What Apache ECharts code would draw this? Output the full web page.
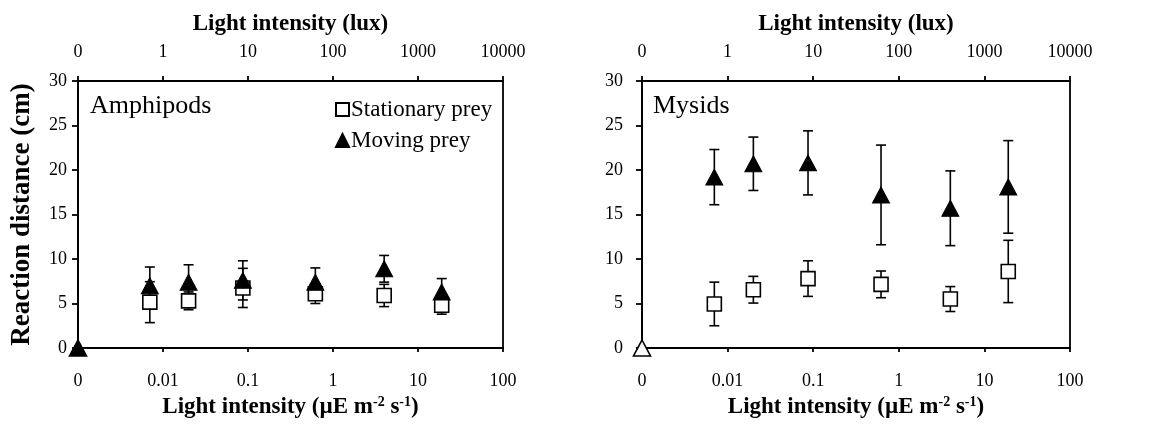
<!DOCTYPE html>
<html>
<head>
<meta charset="utf-8">
<script src="https://cdn.jsdelivr.net/npm/echarts@6/dist/echarts.min.js"></script>
<style>
html,body{margin:0;padding:0;background:#fff;}
#chart{width:1158px;height:424px;}
</style>
</head>
<body>
<div id="chart"></div>
<script>
// ---- data ----
const xValues = [0.007, 0.02, 0.087, 0.62, 4, 19];   // µE m-2 s-1
const zeroX = 0.001;                                  // position labelled "0" on the log axis
const zeroY = 0;
const bottomTickLabels = ['0', '0.01', '0.1', '1', '10', '100'];
const topTickLabels = ['0', '1', '10', '100', '1000', '10000'];
const yTicks = [0, 5, 10, 15, 20, 25, 30];

const ampStatMean = [5.15, 5.3, 6.75, 6.1, 5.9, 4.8];
const ampStatErr  = [2.3, 1.0, 2.2, 1.1, 1.25, 1.0];
const ampMoveMean = [7.0, 7.4, 7.6, 7.4, 8.9, 6.3];
const ampMoveErr  = [2.1, 1.95, 2.2, 1.6, 1.5, 1.5];

const mysStatMean = [4.95, 6.55, 7.8, 7.15, 5.5, 8.6];
const mysStatErr  = [2.45, 1.5, 2.0, 1.5, 1.4, 3.5];
const mysMoveMean = [19.2, 20.7, 20.8, 17.2, 15.7, 18.1];
const mysMoveErr  = [3.1, 3.0, 3.6, 5.6, 4.2, 5.2];

const panelNames = ['Amphipods', 'Mysids'];
const seriesNames = ['Stationary prey', 'Moving prey'];

// ---- chart ----
const FONT = 'Liberation Serif';
const chart = echarts.init(document.getElementById('chart'), null, {renderer: 'canvas'});

const grids = [
  {left: 78, top: 81, width: 425, height: 267},
  {left: 642, top: 81, width: 428, height: 267}
];

function errRender(params, api) {
  const x = api.value(0), y = api.value(1), e = api.value(2);
  const t = api.coord([x, y + e]);
  const b = api.coord([x, y - e]);
  const w = 5;
  const st = {stroke: '#000', lineWidth: 1.6};
  return {
    type: 'group',
    children: [
      {type: 'line', shape: {x1: t[0], y1: t[1], x2: b[0], y2: b[1]}, style: st},
      {type: 'line', shape: {x1: t[0] - w, y1: t[1], x2: t[0] + w, y2: t[1]}, style: st},
      {type: 'line', shape: {x1: b[0] - w, y1: b[1], x2: b[0] + w, y2: b[1]}, style: st}
    ]
  };
}

function pts(means) { return xValues.map((x, i) => [x, means[i]]); }
function errs(means, e) { return xValues.map((x, i) => [x, means[i], e[i]]); }

const xAxes = [], yAxes = [], series = [];
[0, 1].forEach(g => {
  xAxes.push({
    gridIndex: g, type: 'log', logBase: 10, min: 0.001, max: 100, position: 'bottom',
    axisLine: {lineStyle: {color: '#000', width: 1.8}},
    axisTick: {length: 4, lineStyle: {color: '#000', width: 1.8}},
    splitLine: {show: false}, minorTick: {show: false},
    axisLabel: {color: '#000', fontFamily: FONT, fontSize: 18, margin: 24,
      formatter: (v, i) => bottomTickLabels[i]},
    name: 'Light intensity (µE m{sup|-2} s{sup|-1})',
    nameLocation: 'middle', nameGap: 46,
    nameTextStyle: {color: '#000', fontFamily: FONT, fontSize: 23, fontWeight: 'bold',
      rich: {sup: {fontSize: 14, fontWeight: 'bold', fontFamily: FONT, verticalAlign: 'top', padding: [0, 0, 10, 0]}}}
  });
  xAxes.push({
    gridIndex: g, type: 'log', logBase: 10, min: 0.1, max: 10000, position: 'top',
    axisLine: {lineStyle: {color: '#000', width: 1.8}},
    axisTick: {length: 5, lineStyle: {color: '#000', width: 1.8}},
    splitLine: {show: false}, minorTick: {show: false},
    axisLabel: {color: '#000', fontFamily: FONT, fontSize: 18, margin: 20,
      formatter: (v, i) => topTickLabels[i]},
    name: 'Light intensity (lux)',
    nameLocation: 'middle', nameGap: 45,
    nameTextStyle: {color: '#000', fontFamily: FONT, fontSize: 23, fontWeight: 'bold'}
  });
  yAxes.push({
    gridIndex: g, type: 'value', min: yTicks[0], max: yTicks[yTicks.length - 1], interval: 5,
    axisLine: {show: true, lineStyle: {color: '#000', width: 1.8}},
    axisTick: {show: true, length: 6, lineStyle: {color: '#000', width: 1.8}},
    splitLine: {show: false},
    axisLabel: {color: '#000', fontFamily: FONT, fontSize: 18, margin: g === 0 ? 11 : 19},
    name: g === 0 ? 'Reaction distance (cm)' : '',
    nameLocation: 'middle', nameGap: 42, nameRotate: 90,
    nameTextStyle: {color: '#000', fontFamily: FONT, fontSize: 27, fontWeight: 'bold'}
  });
});

const sets = [
  {g: 0, sm: ampStatMean, se: ampStatErr, mm: ampMoveMean, me: ampMoveErr, zeroFill: '#000'},
  {g: 1, sm: mysStatMean, se: mysStatErr, mm: mysMoveMean, me: mysMoveErr, zeroFill: '#fff'}
];
sets.forEach(s => {
  const xi = s.g * 2, yi = s.g;
  series.push({type: 'custom', xAxisIndex: xi, yAxisIndex: yi, renderItem: errRender,
    data: errs(s.sm, s.se), z: 1, silent: true, clip: false});
  series.push({type: 'custom', xAxisIndex: xi, yAxisIndex: yi, renderItem: errRender,
    data: errs(s.mm, s.me), z: 1, silent: true, clip: false});
  series.push({name: seriesNames[0], type: 'scatter', xAxisIndex: xi, yAxisIndex: yi,
    symbol: 'rect', symbolSize: 14, clip: false, z: 2,
    itemStyle: {color: '#fff', borderColor: '#000', borderWidth: 1.6, opacity: 1},
    data: pts(s.sm)});
  series.push({name: seriesNames[1], type: 'scatter', xAxisIndex: xi, yAxisIndex: yi,
    symbol: 'triangle', symbolSize: [17, 16], clip: false, z: 3,
    itemStyle: {color: '#000', borderColor: '#000', borderWidth: 1, opacity: 1},
    data: pts(s.mm)});
  series.push({name: 'zero', type: 'scatter', xAxisIndex: xi, yAxisIndex: yi,
    symbol: 'triangle', symbolSize: [17, 16], clip: false, z: 4,
    itemStyle: {color: s.zeroFill, borderColor: '#000', borderWidth: 1.6, opacity: 1},
    data: [[zeroX, zeroY]]});
});

chart.setOption({
  animation: false,
  backgroundColor: '#fff',
  textStyle: {fontFamily: FONT, color: '#000'},
  grid: grids.map(g => Object.assign({show: true, borderColor: '#000', borderWidth: 1.8,
    backgroundColor: 'transparent', containLabel: false, outerBoundsMode: 'none'}, g)),
  title: [
    {text: panelNames[0], left: 85, top: 88, textStyle: {fontFamily: FONT, fontSize: 26, fontWeight: 'normal', color: '#000'}},
    {text: panelNames[1], left: 648, top: 88, textStyle: {fontFamily: FONT, fontSize: 26, fontWeight: 'normal', color: '#000'}}
  ],
  legend: {
    data: seriesNames, orient: 'vertical', left: 330, top: 93,
    itemWidth: 13, itemHeight: 13, itemGap: 8,
    textStyle: {fontFamily: FONT, fontSize: 23, color: '#000', padding: [0, 0, 0, -3]},
    selectedMode: false
  },
  xAxis: xAxes,
  yAxis: yAxes,
  series: series
});
</script>
</body>
</html>
